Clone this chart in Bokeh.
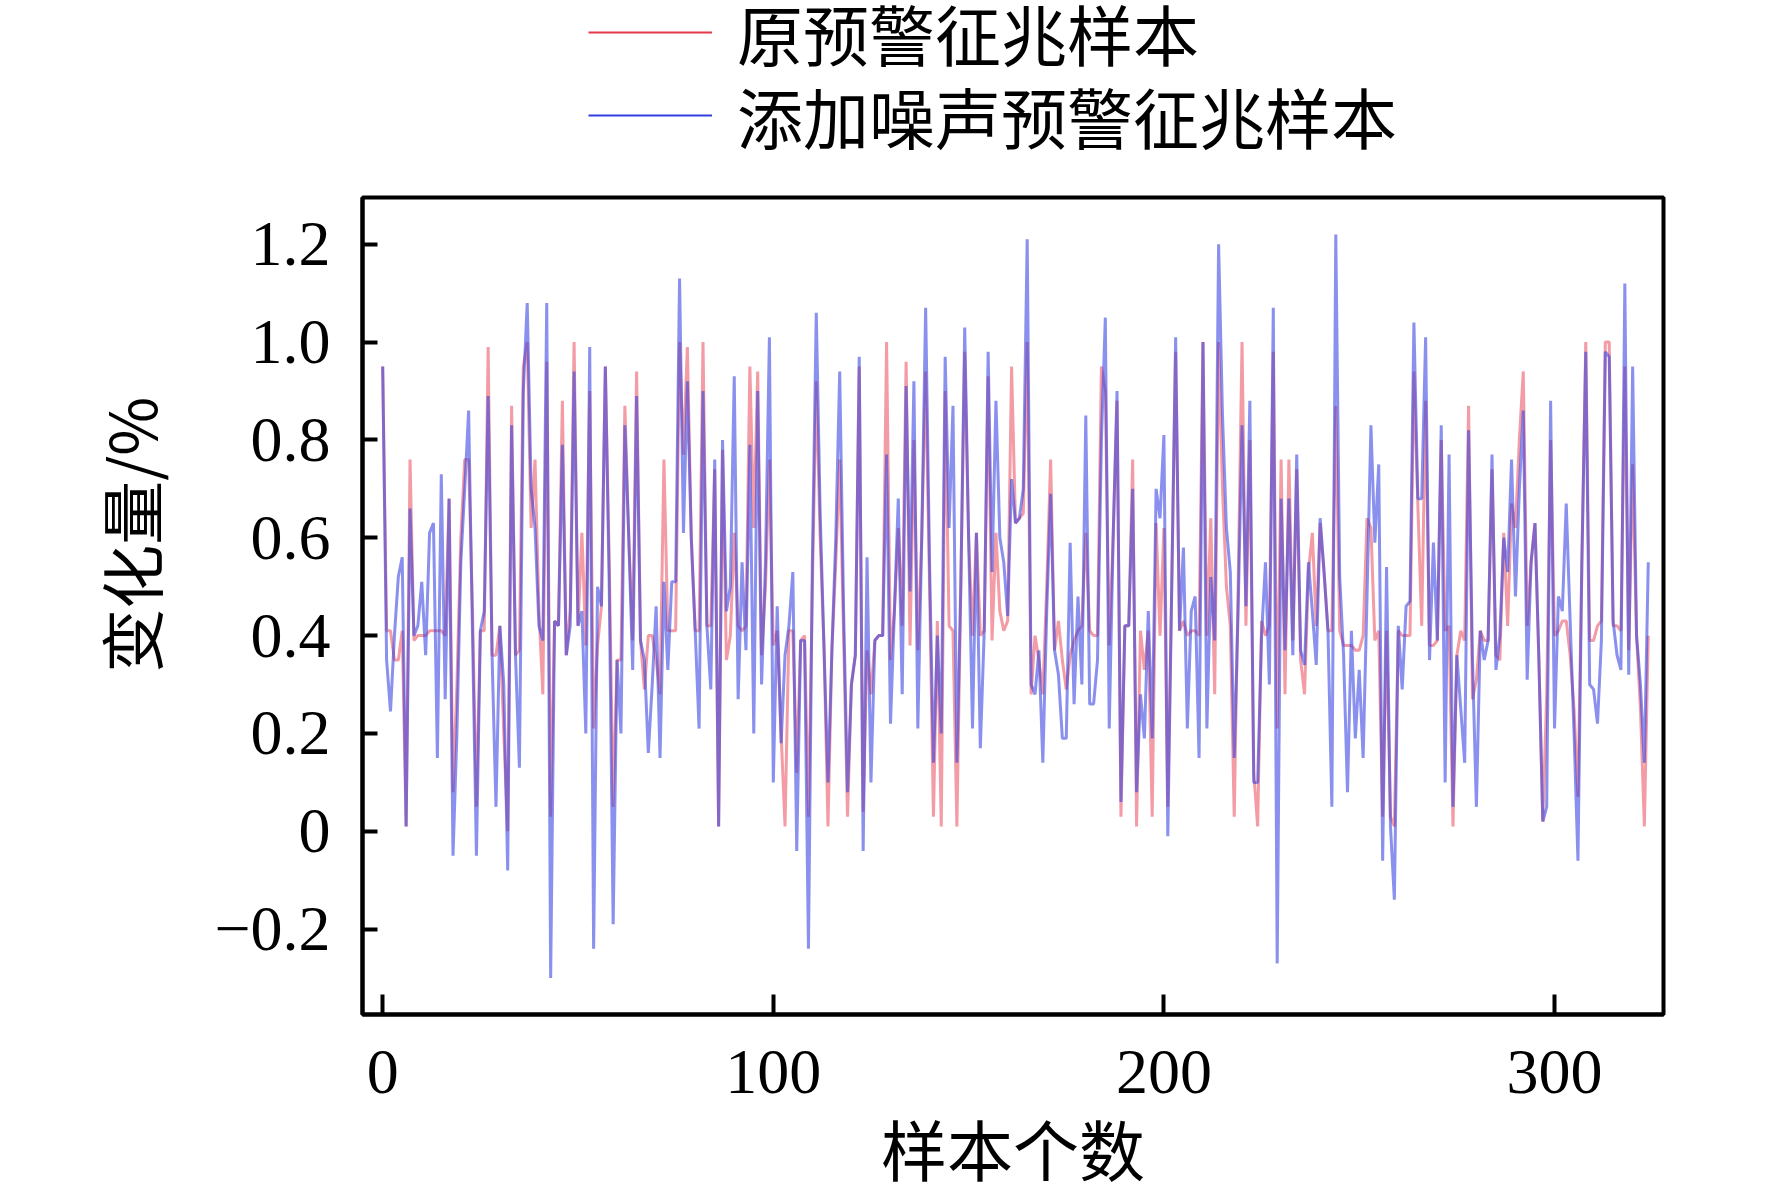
from bokeh.plotting import figure
from bokeh.layouts import column
from bokeh.models import (Range1d, FixedTicker, CustomJSTickFormatter, Legend,
                          LegendItem)
from bokeh.embed import file_html
from bokeh.resources import INLINE

# ---------------- data ----------------
original = [
    .95, .41, .41, .35, .35, .41, .01, .76, .39, .40,
    .40, .40, .41, .41, .41, .41, .40, .68, .08, .30,
    .60, .76, .76, .45, .05, .41, .41, .99, .36, .36,
    .42, .20, .00, .87, .36, .37, .95, 1.0, .62, .76,
    .45, .28, .96, .03, .43, .42, .88, .36, .45, 1.0,
    .42, .61, .38, .90, .21, .38, .46, .95, .55, .05,
    .35, .35, .87, .60, .39, .94, .39, .29, .40, .40,
    .35, .28, .76, .41, .41, .41, 1.0, .77, .99, .60,
    .41, .41, 1.0, .42, .42, .74, .01, .78, .35, .40,
    .61, .42, .41, .42, .95, .62, .94, .36, .50, .76,
    .38, .41, .20, .01, .41, .41, .12, .39, .40, .03,
    .50, .92, .60, .37, .01, .37, .55, .76, .40, .03,
    .30, .36, .95, .04, .37, .28, .39, .40, .40, 1.0,
    .35, .45, .62, .42, .96, .38, .80, .37, .60, .94,
    .50, .03, .43, .01, .90, .42, .41, .01, .50, .98,
    .60, .40, .61, .40, .41, .93, .39, .61, .45, .41,
    .43, .95, .63, .64, .65, 1.0, .28, .40, .35, .28,
    .50, .76, .37, .43, .35, .29, .36, .39, .41, .42,
    .61, .41, .40, .40, .95, .90, .38, .60, .88, .03,
    .42, .42, .76, .01, .41, .33, .41, .03, .63, .40,
    .62, .05, .50, .98, .41, .43, .40, .41, .41, .40,
    1.0, .40, .64, .28, 1.0, .70, .50, .42, .03, .50,
    1.0, .42, .80, .12, .01, .43, .40, .42, .98, .21,
    .76, .28, .76, .39, .74, .35, .28, .53, .61, .42,
    .63, .53, .41, .41, .87, .41, .38, .38, .38, .37,
    .37, .40, .64, .62, .39, .41, .03, .41, .03, .01,
    .41, .40, .40, .40, .94, .67, .42, .88, .38, .38,
    .39, .80, .41, .42, .01, .36, .41, .39, .87, .27,
    .31, .41, .39, .39, .74, .36, .35, .61, .42, .67,
    .62, .80, .94, .42, .55, .63, .35, .02, .28, .80,
    .40, .41, .43, .43, .36, .25, .07, .55, 1.0, .39,
    .39, .42, .43, 1.0, 1.0, .42, .42, .41, .95, .37,
    .75, .40, .25, .01, .40,
]

noisy = [
    .95, .35, .245, .40, .52, .56, .01, .66, .40, .42,
    .51, .36, .61, .63, .15, .73, .27, .68, -.05, .20,
    .55, .70, .86, .40, -.05, .41, .45, .89, .36, .05,
    .42, .30, -.08, .83, .36, .13, .90, 1.08, .70, .62,
    .42, .39, 1.08, -.30, .43, .42, .79, .36, .42, .94,
    .42, .45, .20, .99, -.24, .50, .46, .95, .50, -.19,
    .35, .20, .83, .60, .33, .89, .39, .35, .16, .30,
    .46, .15, .51, .33, .51, .51, 1.13, .61, .92, .60,
    .41, .21, .90, .42, .29, .76, .01, .80, .45, .50,
    .93, .27, .55, .37, .79, .20, .90, .30, .55, 1.01,
    .10, .46, .18, .36, .42, .53, -.04, .39, .39, -.24,
    .55, 1.06, .65, .37, .10, .37, .60, .94, .45, .08,
    .30, .36, .97, -.04, .56, .10, .39, .40, .40, .77,
    .22, .45, .68, .28, .91, .49, .92, .21, .60, 1.07,
    .55, .14, .40, .20, .97, .62, .87, .14, .50, 1.03,
    .60, .21, .61, .17, .41, .98, .53, .88, .60, .55,
    .44, .72, .63, .64, .70, 1.21, .30, .28, .37, .14,
    .45, .69, .37, .32, .19, .19, .59, .26, .48, .30,
    .85, .26, .26, .35, .80, 1.05, .21, .60, .90, .06,
    .42, .42, .70, .08, .28, .19, .45, .19, .70, .64,
    .81, -.01, .50, 1.01, .41, .58, .21, .45, .48, .15,
    1.0, .21, .52, .39, 1.20, .85, .62, .53, .15, .45,
    .83, .46, .88, .10, .10, .40, .55, .30, 1.07, -.27,
    .68, .37, .68, .36, .77, .37, .34, .55, .45, .34,
    .64, .53, .41, .05, 1.22, .52, .36, .08, .41, .19,
    .33, .15, .48, .83, .59, .75, -.06, .54, .01, -.14,
    .42, .29, .46, .47, 1.04, .68, .68, 1.01, .35, .59,
    .39, .83, .10, .77, .05, .36, .25, .14, .82, .35,
    .05, .41, .35, .39, .77, .33, .40, .60, .53, .76,
    .48, .70, .86, .31, .55, .63, .35, .02, .05, .88,
    .21, .48, .45, .67, .43, .20, -.06, .55, .98, .30,
    .29, .22, .39, .98, .97, .43, .36, .33, 1.12, .32,
    .95, .40, .30, .14, .55,
]

samples = list(range(len(original)))

x_ticks = [0, 100, 200, 300]
y_ticks = [-0.2, 0, 0.2, 0.4, 0.6, 0.8, 1.0, 1.2]

series_names = ["原预警征兆样本", "添加噪声预警征兆样本"]
x_title = "样本个数"
y_title = "变化量/%"

RED = "#e8394b"
BLUE = "#3340e0"
NUM_FONT = "Liberation Serif"
CJK_FONT = "Noto Sans CJK SC"

W = 1756
TOP_H = 190
TOTAL_H = 1198

# ---------------- legend strip (its own small figure) ----------------
# the series are drawn here too but the y range keeps them out of view;
# they only serve as legend glyphs at full colour
top = figure(width=W, height=TOP_H, output_backend="svg", toolbar_location=None,
             x_axis_location=None, y_axis_location=None,
             x_range=Range1d(-5.17, 327.9), y_range=Range1d(10, 11),
             min_border=0, min_border_left=0, min_border_right=0,
             min_border_top=0, min_border_bottom=0)
top.outline_line_color = None
top.xgrid.visible = False
top.ygrid.visible = False
r_leg = top.line(samples, original, line_color=RED, line_width=2)
b_leg = top.line(samples, noisy, line_color=BLUE, line_width=2)


def make_legend(label, renderer, vy):
    return Legend(items=[LegendItem(label=label, renderers=[renderer])],
                  location=(226, vy), orientation="vertical",
                  glyph_width=124, glyph_height=60,
                  label_standoff=25, spacing=0, padding=0, margin=0,
                  label_text_font=CJK_FONT, label_text_font_size="66px",
                  label_text_color="black", border_line_alpha=0,
                  background_fill_alpha=0)


top.add_layout(make_legend(series_names[0], r_leg, 110), "center")
top.add_layout(make_legend(series_names[1], b_leg, 27), "center")

# ---------------- main chart ----------------
p = figure(width=W, height=TOTAL_H - TOP_H, output_backend="svg",
           toolbar_location=None,
           x_range=Range1d(-5.17, 327.9), y_range=Range1d(-0.3745, 1.2956),
           min_border_left=362, min_border_right=93,
           min_border_top=197 - TOP_H, min_border_bottom=TOTAL_H - 1014)
p.background_fill_color = "white"
p.border_fill_color = "white"
p.outline_line_color = "black"
p.outline_line_width = 4
p.xgrid.visible = False
p.ygrid.visible = False

p.line(samples, original, line_color=RED, line_alpha=0.5, line_width=3)
p.line(samples, noisy, line_color=BLUE, line_alpha=0.58, line_width=3)

fmt = CustomJSTickFormatter(code="""
if (Math.abs(tick) < 1e-9) { return "0"; }
var s = (Math.abs(tick) >= 10) ? tick.toFixed(0) : tick.toFixed(1);
return s.replace("-", "\\u2212");
""")

p.xaxis.ticker = FixedTicker(ticks=x_ticks)
p.yaxis.ticker = FixedTicker(ticks=y_ticks)
p.yaxis.formatter = fmt
for ax in (p.xaxis[0], p.yaxis[0]):
    ax.axis_line_color = "black"
    ax.axis_line_width = 4
    ax.major_tick_line_color = "black"
    ax.major_tick_line_width = 4
    ax.major_tick_out = 0
    ax.minor_tick_line_color = None
    ax.major_label_text_font = NUM_FONT
    ax.major_label_text_font_size = "64px"
    ax.major_label_text_color = "black"
    ax.axis_label_text_font = CJK_FONT
    ax.axis_label_text_font_style = "normal"
    ax.axis_label_text_color = "black"
p.xaxis.major_tick_in = 20
p.yaxis.major_tick_in = 15
p.xaxis.major_label_standoff = 36
p.yaxis.major_label_standoff = 32

p.xaxis.axis_label = x_title
p.xaxis.axis_label_text_font_size = "66px"
p.xaxis.axis_label_standoff = 3
p.yaxis.axis_label = "\u3000\u3000\u00a0" + y_title
p.yaxis.axis_label_text_font_size = "64px"
p.yaxis.axis_label_standoff = 36

page = column(top, p, spacing=0)
open("out.html", "w").write(file_html(page, INLINE))
